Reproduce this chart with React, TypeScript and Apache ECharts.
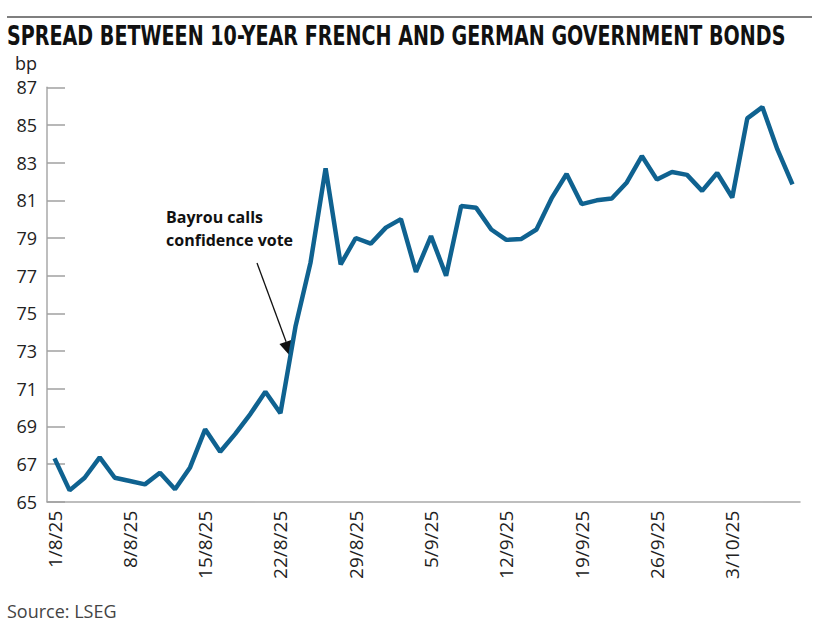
import React, { useEffect, useRef } from "react";
import * as echarts from "echarts";

const dates: string[] = [
  "1/8/25",
  "4/8/25", "5/8/25", "6/8/25", "7/8/25", "8/8/25",
  "11/8/25", "12/8/25", "13/8/25", "14/8/25", "15/8/25",
  "18/8/25", "19/8/25", "20/8/25", "21/8/25", "22/8/25",
  "25/8/25", "26/8/25", "27/8/25", "28/8/25", "29/8/25",
  "1/9/25", "2/9/25", "3/9/25", "4/9/25", "5/9/25",
  "8/9/25", "9/9/25", "10/9/25", "11/9/25", "12/9/25",
  "15/9/25", "16/9/25", "17/9/25", "18/9/25", "19/9/25",
  "22/9/25", "23/9/25", "24/9/25", "25/9/25", "26/9/25",
  "29/9/25", "30/9/25", "1/10/25", "2/10/25", "3/10/25",
  "6/10/25", "7/10/25", "8/10/25", "9/10/25",
];

const spread: number[] = [
  67.3, 65.6, 66.27, 67.35, 66.27, 66.1, 65.92, 66.54, 65.66, 66.82,
  68.84, 67.65, 68.6, 69.65, 70.84, 69.7, 74.3, 77.7, 82.7, 77.6,
  79.0, 78.7, 79.55, 80.0, 77.2, 79.1, 77.0, 80.7, 80.6, 79.45,
  78.9, 78.95, 79.45, 81.1, 82.4, 80.8, 81.0, 81.1, 81.95, 83.35,
  82.1, 82.5, 82.35, 81.5, 82.45, 81.15, 85.35, 85.95, 83.7, 81.85,
];

const yMin = 65;
const yMax = 87;
const yStep = 2;

const titleText = "SPREAD BETWEEN 10-YEAR FRENCH AND GERMAN GOVERNMENT BONDS";
const unitText = "bp";
const sourceText = "Source: LSEG";
const annotationText = "Bayrou calls\nconfidence vote";

const TITLE_FONT = "bold 26px 'DejaVu Sans Condensed', 'DejaVu Sans', sans-serif";

function measure(font: string, text: string): number {
  const c = document.createElement("canvas");
  const ctx = c.getContext("2d");
  if (!ctx) return 0;
  ctx.font = font;
  return ctx.measureText(text).width;
}

export default function App() {
  const ref = useRef<HTMLDivElement>(null);

  useEffect(() => {
    document.body.style.margin = "0";
    if (!ref.current) return;
    const chart = echarts.init(ref.current, undefined, { renderer: "svg" });

    const titleW = measure(TITLE_FONT, titleText) || 900;
    const titleScale = 779 / titleW;

    const tip = [291, 357];
    const dir = [0.307, 0.952];
    const perp = [0.952, -0.307];
    const len = 16;
    const hw = 7;
    const base = [tip[0] - dir[0] * len, tip[1] - dir[1] * len];

    chart.setOption({
      animation: false,
      backgroundColor: "#ffffff",
      grid: {
        left: 47,
        right: 18,
        top: 87.3,
        bottom: 131.3,
        containLabel: false,
      },
      xAxis: {
        type: "category",
        data: dates,
        boundaryGap: true,
        axisLine: { show: true, lineStyle: { color: "#a8a8a8", width: 1.5 } },
        axisTick: { show: false },
        axisLabel: {
          interval: 4,
          rotate: 90,
          margin: 9,
          fontFamily: "'Open Sans', sans-serif",
          fontSize: 19,
          color: "#222222",
        },
        splitLine: { show: false },
      },
      yAxis: {
        type: "value",
        min: yMin,
        max: yMax,
        interval: yStep,
        axisLine: { show: true, lineStyle: { color: "#a8a8a8", width: 1.5 } },
        axisTick: {
          show: true,
          inside: true,
          length: 18,
          lineStyle: { color: "#a0a0a0", width: 1.5 },
        },
        axisLabel: {
          margin: 10,
          fontFamily: "'Open Sans', sans-serif",
          fontSize: 18,
          color: "#222222",
        },
        splitLine: { show: false },
      },
      series: [
        {
          type: "line",
          data: spread,
          symbol: "none",
          lineStyle: { color: "#0f6290", width: 4.5 },
          itemStyle: { color: "#0f6290" },
        },
      ],
      graphic: [
        {
          type: "line",
          shape: { x1: 7, y1: 17, x2: 812, y2: 17 },
          style: { stroke: "#555555", lineWidth: 1.5 },
        },
        {
          type: "text",
          x: 7,
          y: 23,
          scaleX: titleScale,
          style: {
            text: titleText,
            font: TITLE_FONT,
            fill: "#111111",
          },
        },
        {
          type: "text",
          left: 15,
          top: 54,
          style: {
            text: unitText,
            font: "18px 'Open Sans', sans-serif",
            fill: "#222222",
          },
        },
        {
          type: "text",
          left: 7,
          top: 602,
          style: {
            text: sourceText,
            font: "18px 'Open Sans', sans-serif",
            fill: "#444444",
          },
        },
        {
          type: "text",
          left: 166,
          top: 205,
          style: {
            text: annotationText,
            font: "bold 16px 'Open Sans', sans-serif",
            lineHeight: 23,
            fill: "#111111",
          },
        },
        {
          type: "line",
          shape: { x1: 257, y1: 263, x2: base[0], y2: base[1] },
          style: { stroke: "#111111", lineWidth: 1.3 },
        },
        {
          type: "polygon",
          shape: {
            points: [
              tip,
              [base[0] + perp[0] * hw, base[1] + perp[1] * hw],
              [base[0] - perp[0] * hw, base[1] - perp[1] * hw],
            ],
          },
          style: { fill: "#111111" },
        },
      ],
    });

    return () => {
      chart.dispose();
    };
  }, []);

  return <div ref={ref} style={{ width: 818, height: 633 }} />;
}
